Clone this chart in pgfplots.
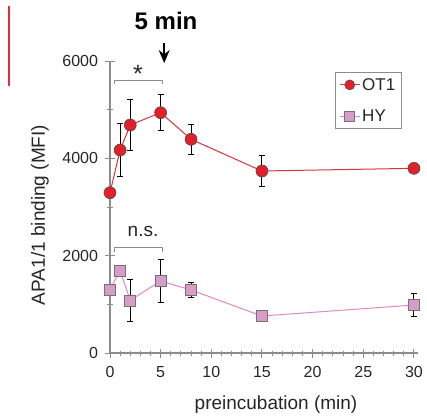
\documentclass[border=0pt]{standalone}
\usepackage{fontspec}
\setmainfont{Liberation Sans}
\usepackage{pgfplots}
\pgfplotsset{compat=1.18}
\usetikzlibrary{arrows.meta}
\definecolor{otred}{HTML}{E2202A}
\definecolor{otline}{HTML}{D8333F}
\definecolor{hyfill}{HTML}{D89CC8}
\definecolor{hyline}{HTML}{E487C0}
\definecolor{axgray}{HTML}{8C8C8C}
\definecolor{txt}{HTML}{262626}
\definecolor{stray}{HTML}{E03040}
\pgfplotstableread{
x y e
0 3294 0
1 4171 545
2 4685 530
5 4938 365
8 4391 310
15 3740 320
30 3795 0
}\otone
\pgfplotstableread{
x y e
0 1309 0
1 1685 0
2 1083 430
5 1480 450
8 1295 145
15 760 0
30 986 240
}\hy
\begin{document}
\begin{tikzpicture}
\begin{axis}[
 scale only axis, width=308pt, height=292pt,
 xmin=0, xmax=30.4, ymin=0, ymax=6000,
 axis x line*=bottom, axis y line*=left,
 axis line style={draw=axgray, line width=1.2pt, -},
 xtick={0,5,...,30}, ytick={0,2000,4000,6000},
 minor x tick num=4, minor y tick num=1,
 tick align=center, major tick length=9pt, minor tick length=5pt,
 tick style={draw=axgray, line width=1pt},
 scaled y ticks=false,
 /pgf/number format/assume math mode=true,
 y tick label style={/pgf/number format/1000 sep={}, xshift=-4pt},
 x tick label style={yshift=-5pt},
 tick label style={font=\fontsize{16}{19}\selectfont, text=txt},
 xlabel={preincubation (min)},
 ylabel={APA1/1 binding (MFI)},
 label style={font=\fontsize{19}{22}\selectfont, text=txt},
 xlabel style={at={(axis description cs:0.539,-0.178)}, anchor=center},
 ylabel style={at={(axis description cs:-0.227,0.473)}, anchor=center},
 clip=false,
 legend image code/.code={\draw[mark repeat=2,mark phase=2,#1] plot coordinates {(0pt,0pt) (10pt,0pt) (20pt,0pt)};},
 legend image post style={mark size=5pt},
 legend style={at={(axis description cs:0.73,0.963)}, anchor=north west, draw=axgray, line width=0.8pt, font=\fontsize{17}{20}\selectfont, text=txt, row sep=14pt, inner sep=4pt},
 legend cell align=left,
]
\coordinate (bl) at (rel axis cs:0,0);
\addplot[color=otline, line width=1pt, mark=*, mark size=6pt,
  mark options={fill=otred, draw=black!70, line width=0.6pt},
  error bars/.cd, y dir=both, y explicit,
  error bar style={black, line width=1pt},
  error mark options={rotate=90, black, mark size=3pt, line width=1pt}]
  table[x=x, y=y, y error=e] {\otone};
\addlegendentry{OT1}
\addplot[color=hyline, line width=1pt, mark=square*, mark size=5.5pt,
  mark options={fill=hyfill, draw=black!55, line width=0.6pt},
  error bars/.cd, y dir=both, y explicit,
  error bar style={black, line width=1pt},
  error mark options={rotate=90, black, mark size=3pt, line width=1pt}]
  table[x=x, y=y, y error=e] {\hy};
\addlegendentry{HY}
\draw[axgray, line width=1pt] (axis cs:0.42,5530) -- (axis cs:0.42,5609) -- (axis cs:5.2,5609) -- (axis cs:5.2,5530);
\draw[axgray, line width=1pt] (axis cs:0.42,2075) -- (axis cs:0.42,2164) -- (axis cs:5.2,2164) -- (axis cs:5.2,2075);
\node[anchor=base, font=\fontsize{25}{28}\selectfont, text=txt] at (axis cs:2.76,5560) {*};
\node[anchor=base, font=\fontsize{19}{22}\selectfont, text=txt] at (axis cs:3.26,2397) {n.s.};
\node[anchor=base, font=\fontsize{24}{28}\selectfont\bfseries] at (axis cs:5.53,6651) {5 min};
\draw[-{Stealth[length=13pt,width=11pt]}, line width=1.5pt] (axis cs:5.35,6370) -- (axis cs:5.35,5958);
\path[draw=stray, line width=1.1pt] (axis description cs:-0.328,1.188) -- (axis description cs:-0.328,0.914);
\end{axis}
\pgfresetboundingbox
\path[use as bounding box] (bl) ++(-110pt,-63pt) rectangle ++(427pt,416pt);
\end{tikzpicture}
\end{document}
